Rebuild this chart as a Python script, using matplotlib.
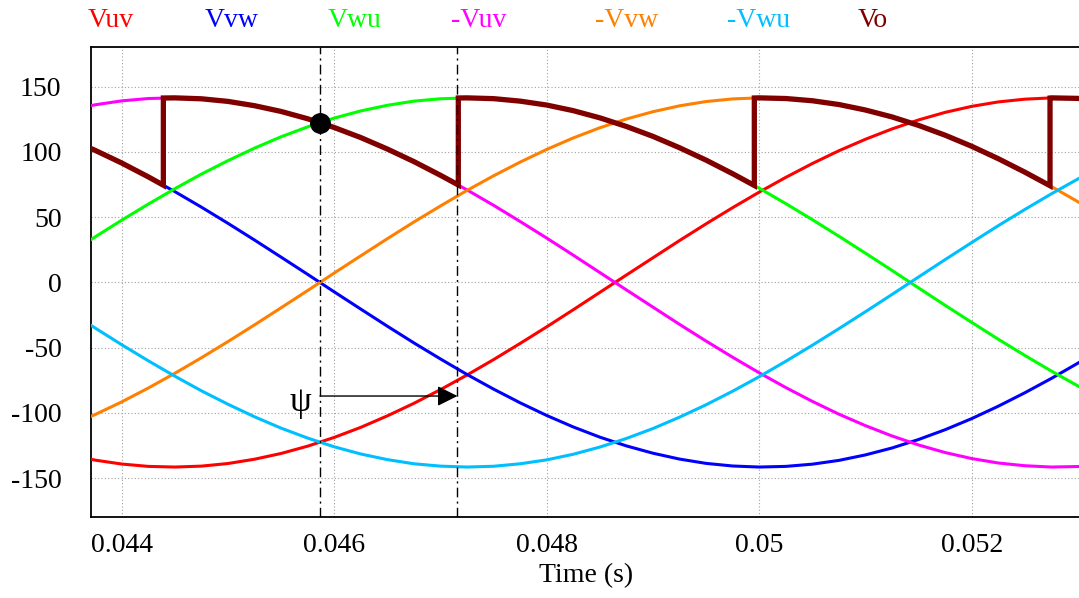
import matplotlib

matplotlib.use("Agg")
import matplotlib.pyplot as plt

plt.rcParams["font.family"] = ["Liberation Serif", "DejaVu Serif"]
plt.rcParams["axes.unicode_minus"] = False

# ── 데이터 (그림에서 읽은 값, 0.25 ms 간격) ──
time = [0.0435 + 0.00025 * i for i in range(41)]
vuv = [-131.9, -136.1, -139.1, -140.9, -141.4, -140.7, -138.7, -135.4, -131.0, -125.4,
       -118.7, -111.0, -102.2, -92.6, -82.1, -70.9, -59.1, -46.7, -34.0, -20.9,
       -7.6, 5.7, 18.9, 32.1, 44.9, 57.3, 69.2, 80.5, 91.1, 100.9,
       109.7, 117.6, 124.5, 130.3, 134.9, 138.3, 140.4, 141.4, 141.0, 139.5, 136.7]
vvw = [110.0, 101.2, 91.5, 80.9, 69.6, 57.7, 45.3, 32.5, 19.4, 6.2,
       -7.2, -20.4, -33.5, -46.3, -58.6, -70.5, -81.7, -92.2, -101.9, -110.7,
       -118.5, -125.2, -130.8, -135.3, -138.6, -140.6, -141.4, -140.9, -139.2, -136.3,
       -132.1, -126.8, -120.3, -112.8, -104.3, -94.8, -84.5, -73.5, -61.8, -49.5, -36.8]
vwu = [21.9, 34.9, 47.7, 60.0, 71.8, 83.0, 93.3, 102.9, 111.6, 119.2,
       125.9, 131.4, 135.7, 138.9, 140.7, 141.4, 140.8, 138.9, 135.9, 131.6,
       126.1, 119.5, 111.9, 103.2, 93.7, 83.3, 72.2, 60.4, 48.1, 35.4,
       22.4, 9.2, -4.2, -17.5, -30.6, -43.5, -55.9, -67.9, -79.3, -90.0, -99.8]

# Vo: 스위칭 시점에서 값이 점프 (같은 시각 두 번)
vo_time = [0.0435, 0.04375, 0.0440, 0.04425, 0.044392,
           0.044392, 0.0445, 0.04475, 0.0450, 0.04525, 0.0455, 0.04575, 0.0460,
           0.04625, 0.0465, 0.04675, 0.0470, 0.047168,
           0.047168, 0.04725, 0.0475, 0.04775, 0.0480, 0.04825, 0.0485, 0.04875,
           0.0490, 0.04925, 0.0495, 0.04975, 0.049954,
           0.049954, 0.0500, 0.05025, 0.0505, 0.05075, 0.0510, 0.05125, 0.0515,
           0.05175, 0.0520, 0.05225, 0.0525, 0.052737,
           0.052737, 0.05275, 0.0530, 0.05325, 0.0535]
vo = [110.0, 101.2, 91.5, 80.9, 74.5,
      141.3, 141.4, 140.7, 138.7, 135.4, 131.0, 125.4, 118.7,
      111.0, 102.2, 92.6, 82.1, 74.7,
      141.3, 141.4, 140.8, 138.9, 135.9, 131.6, 126.1, 119.5,
      111.9, 103.2, 93.7, 83.3, 74.3,
      141.3, 141.4, 140.9, 139.2, 136.3, 132.1, 126.8, 120.3,
      112.8, 104.3, 94.8, 84.5, 74.1,
      141.3, 141.4, 141.0, 139.5, 136.7]

cursor_t = [0.045866, 0.04716]
dot_t, dot_v = 0.045866, 122.5
arrow_v = -87

x_ticks = [0.044, 0.046, 0.048, 0.050, 0.052]
x_ticklabels = ["0.044", "0.046", "0.048", "0.05", "0.052"]
y_ticks = [-150, -100, -50, 0, 50, 100, 150]

names = ["Vuv", "Vvw", "Vwu", "-Vuv", "-Vvw", "-Vwu", "Vo"]
colors = ["#ff0000", "#0000ff", "#00ff00", "#ff00ff", "#ff8000", "#00bfff", "#800000"]
label_px = [88, 205, 328, 451, 595, 727, 858]

W, H = 1079, 598
fig = plt.figure(figsize=(W / 100, H / 100), dpi=100)
ax = fig.add_axes([90.7 / W, 1 - 517.3 / H, (1082 - 90.7) / W, (517.3 - 46.7) / H])

series = [vuv, vvw, vwu,
          [-v for v in vuv], [-v for v in vvw], [-v for v in vwu]]
for vals, c in zip(series, colors[:6]):
    ax.plot(time, vals, color=c, lw=2.2, zorder=3)
ax.plot(vo_time, vo, color=colors[6], lw=3.8, zorder=4,
        solid_joinstyle="miter", solid_capstyle="butt")

for ct in cursor_t:
    ax.axvline(ct, color="black", lw=1, ls=(0, (7, 3, 1.5, 3)), zorder=5)

ax.plot([dot_t], [dot_v], "o", color="black", markersize=14, zorder=6)

ax.annotate("", xy=(cursor_t[1], arrow_v), xytext=(cursor_t[0], arrow_v),
            arrowprops=dict(arrowstyle="-|>", color="black", lw=1,
                            mutation_scale=31, shrinkA=0, shrinkB=0),
            zorder=6)
ax.text(0.045678, -92.3, "ψ", fontsize=25, ha="center", va="center", zorder=6)

ax.set_xlim(0.0437082, 0.053038)
ax.set_ylim(-179.9, 180.6)
ax.set_xticks(x_ticks)
ax.set_xticklabels(x_ticklabels)
ax.set_yticks(y_ticks)
ax.tick_params(length=0, labelsize=20)
ax.tick_params(axis="x", pad=11)
ax.tick_params(axis="y", pad=21)
ax.grid(True, color="#a0a0a0", lw=0.8, ls=(0, (1, 2)))
ax.set_axisbelow(True)
for s in ax.spines.values():
    s.set_linewidth(1.3)
ax.spines["right"].set_visible(False)
ax.set_xlabel("Time (s)", fontsize=20, labelpad=4)

for name, c, px in zip(names, colors, label_px):
    fig.text(px / W, 1 - 27 / H, name, color=c, fontsize=20,
             ha="left", va="baseline")

fig.savefig("out.png", dpi=100)
